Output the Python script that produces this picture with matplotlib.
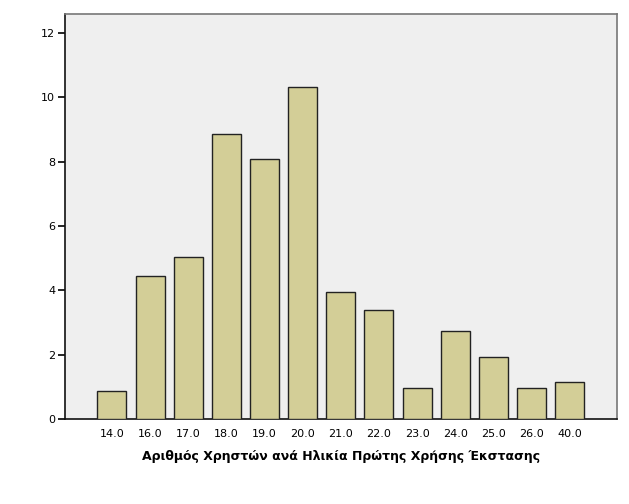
import matplotlib
matplotlib.use("Agg")
import matplotlib.pyplot as plt
import numpy as np

categories = ["14.0", "16.0", "17.0", "18.0", "19.0", "20.0", "21.0",
              "22.0", "23.0", "24.0", "25.0", "26.0", "40.0"]
values = [0.88, 4.45, 5.05, 8.87, 8.08, 10.32, 3.96, 3.38, 0.96, 2.74, 1.94, 0.96, 1.15]
y_ticks = [0, 2, 4, 6, 8, 10, 12]
xlabel = "Αριθμός Χρηστών ανά Ηλικία Πρώτης Χρήσης Έκστασης"

fig = plt.figure(figsize=(6.29, 5.04), dpi=100)
ax = fig.add_axes([65/629, 1 - 419.3/504, (617 - 65)/629, (419.3 - 13.5)/504])
ax.set_facecolor("#efefef")

x = np.arange(len(categories))
ax.bar(x, values, width=0.76, color="#d3ce97", edgecolor="#222222", linewidth=1.0, zorder=3)

ax.set_xlim(-1.23, 13.24)
ax.set_ylim(0, 12.6)
ax.set_yticks(y_ticks)
ax.set_yticklabels([str(t) for t in y_ticks], fontsize=8)
ax.set_xticks(x)
ax.set_xticklabels(categories, fontsize=8)
ax.tick_params(axis="x", length=0, pad=7)
ax.tick_params(axis="y", length=5, width=1.2, pad=2)

for s in ["left", "bottom"]:
    ax.spines[s].set_color("#111111")
    ax.spines[s].set_linewidth(1.2)
for s in ["top", "right"]:
    ax.spines[s].set_color("#777777")
    ax.spines[s].set_linewidth(1.2)

ax.set_xlabel(xlabel, fontsize=9, fontweight="bold", labelpad=8)

fig.savefig("out.png", dpi=100, facecolor="white")
